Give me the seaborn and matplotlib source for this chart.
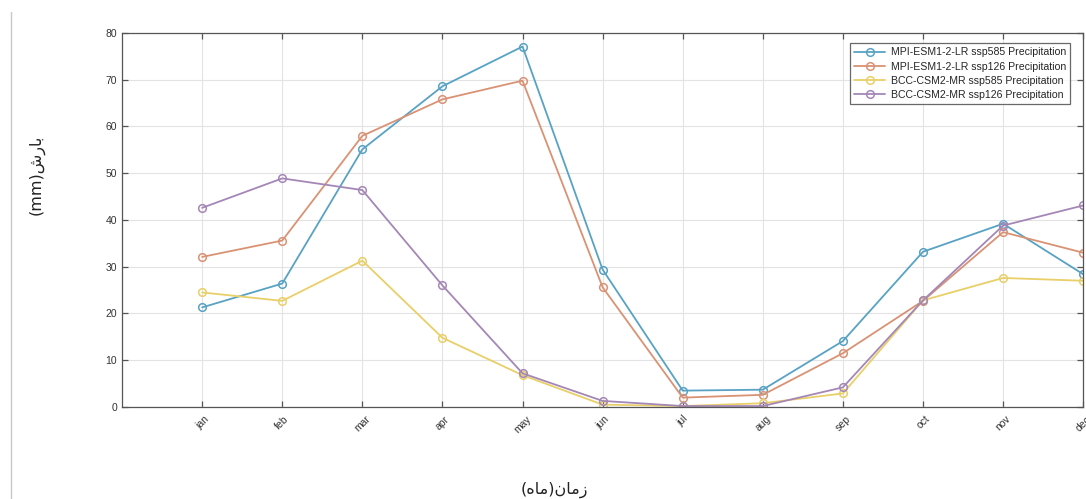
"""
Monthly precipitation under two CMIP6 models and two scenarios.
"""

import matplotlib
matplotlib.use("Agg")
import matplotlib.pyplot as plt
from matplotlib.lines import Line2D
import pandas as pd
import seaborn as sns

# Data
months = ["jan", "feb", "mar", "apr", "may", "jun",
          "jul", "aug", "sep", "oct", "nov", "dec"]

mpi_ssp585 = [21.3, 26.4, 55.1, 68.6, 77.1, 29.4, 3.5, 3.7, 14.1, 33.2, 39.2, 28.4]
mpi_ssp126 = [32.1, 35.6, 58.0, 65.8, 69.8, 25.6, 2.0, 2.6, 11.5, 22.7, 37.4, 33.0]
bcc_ssp585 = [24.5, 22.7, 31.3, 14.8, 6.8, 0.5, 0.2, 0.8, 2.9, 22.8, 27.6, 27.0]
bcc_ssp126 = [42.6, 48.9, 46.4, 26.0, 7.2, 1.3, 0.2, 0.2, 4.2, 22.8, 38.8, 43.1]

series_names = [
    "MPI-ESM1-2-LR ssp585 Precipitation",
    "MPI-ESM1-2-LR ssp126 Precipitation",
    "BCC-CSM2-MR ssp585 Precipitation",
    "BCC-CSM2-MR ssp126 Precipitation",
]
series_values = [mpi_ssp585, mpi_ssp126, bcc_ssp585, bcc_ssp126]
colors = ["#58a2c4", "#d99274", "#e9cf68", "#a487b6"]

# Persian labels, pre-shaped in visual order (matplotlib does no bidi shaping)
x_label = "(\uFEE9\uFE8E\uFEE3)\uFEE5\uFE8E\uFEE3\uFEAF"   # زمان(ماه)
y_label = "(mm)\uFEB5\uFEAD\uFE8E\uFE91"                   # بارش(mm)

sns.set_theme(style="ticks")
plt.rcParams["font.family"] = ["Liberation Sans", "DejaVu Sans"]

# Long-form table for seaborn
rows = []
for name, vals in zip(series_names, series_values):
    for i, v in enumerate(vals):
        rows.append({"month": i + 1, "value": v, "series": name})
df = pd.DataFrame(rows)

fig = plt.figure(figsize=(10.86, 4.99), dpi=100)
ax = fig.add_axes([0.1124, 0.1844, 0.885, 0.7495])

for name, color in zip(series_names, colors):
    sub = df[df["series"] == name]
    sns.lineplot(
        data=sub,
        x="month",
        y="value",
        color=color,
        linewidth=1.3,
        marker="o",
        markersize=5.5,
        markerfacecolor="none",
        markeredgecolor=color,
        markeredgewidth=1.1,
        label=name,
        ax=ax,
    )

# Axis limits and ticks, MATLAB-like box
ax.set_xlim(0, 12)
ax.set_ylim(0, 80)
ax.set_xticks(range(1, 13))
ax.set_xticklabels(months, rotation=45, ha="center", fontsize=7.5, color="#333333")
ax.set_yticks(range(0, 81, 10))
ax.tick_params(axis="y", labelsize=7.5, labelcolor="#333333")
ax.tick_params(direction="in", length=4, width=0.9, color="#555555",
               top=True, right=True)
ax.tick_params(axis="x", pad=5)
ax.grid(True, color="#e3e3e3", linewidth=0.8)
for spine in ax.spines.values():
    spine.set_visible(True)
    spine.set_color("#555555")
    spine.set_linewidth(0.9)

ax.set_xlabel(x_label, fontsize=11.5, family="DejaVu Sans", color="#222222",
              va="center")
ax.set_ylabel(y_label, fontsize=11.5, family="DejaVu Sans", color="#222222")
ax.xaxis.set_label_coords(0.45, -0.222)
ax.yaxis.set_label_coords(-0.081, 0.62)

leg = ax.legend(
    loc="upper right",
    bbox_to_anchor=(0.9865, 0.973),
    borderaxespad=0.0,
    fontsize=7.6,
    frameon=True,
    fancybox=False,
    handlelength=3.0,
    borderpad=0.4,
    labelspacing=0.4,
    handletextpad=0.5,
)
leg.get_frame().set_edgecolor("#444444")
leg.get_frame().set_linewidth(0.9)

# Thin page border line on the left of the screenshot
fig.add_artist(Line2D([0.0105, 0.0105], [0.0, 0.975], color="#c8c8c8",
                      linewidth=1.0, transform=fig.transFigure))

fig.savefig("out.png", dpi=100)
plt.close(fig)
